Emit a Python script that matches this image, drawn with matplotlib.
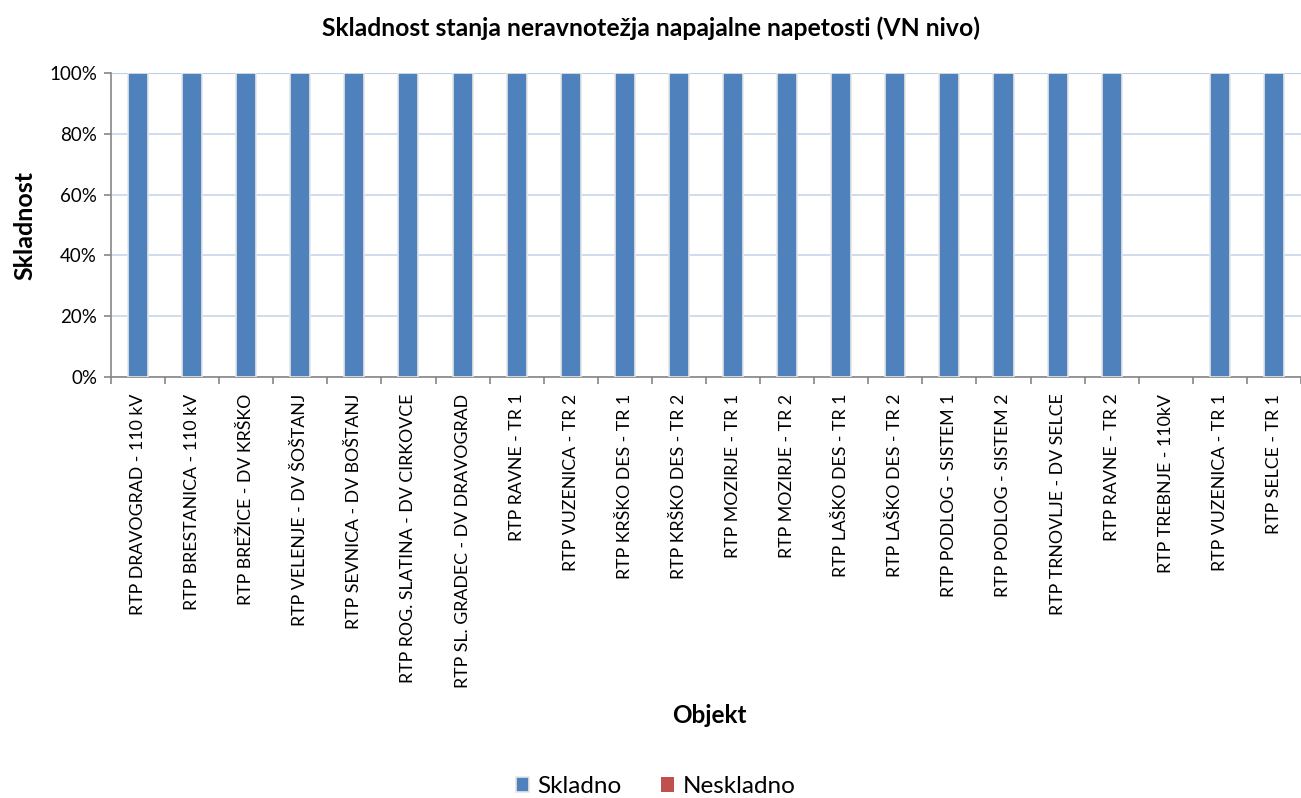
import matplotlib
matplotlib.use("Agg")
import matplotlib.pyplot as plt
import numpy as np
from matplotlib.ticker import PercentFormatter, FixedLocator

plt.rcParams['font.family'] = ['Lato', 'DejaVu Sans']

categories = [
    "RTP DRAVOGRAD - 110 kV", "RTP BRESTANICA - 110 kV", "RTP BREŽICE - DV KRŠKO",
    "RTP VELENJE - DV ŠOŠTANJ", "RTP SEVNICA - DV BOŠTANJ", "RTP ROG. SLATINA - DV CIRKOVCE",
    "RTP SL. GRADEC - DV DRAVOGRAD", "RTP RAVNE - TR 1", "RTP VUZENICA - TR 2",
    "RTP KRŠKO DES - TR 1", "RTP KRŠKO DES - TR 2", "RTP MOZIRJE - TR 1",
    "RTP MOZIRJE - TR 2", "RTP LAŠKO DES - TR 1", "RTP LAŠKO DES - TR 2",
    "RTP PODLOG - SISTEM 1", "RTP PODLOG - SISTEM 2", "RTP TRNOVLJE - DV SELCE",
    "RTP RAVNE - TR 2", "RTP TREBNJE - 110kV", "RTP VUZENICA - TR 1", "RTP SELCE - TR 1",
]
skladno = [1, 1, 1, 1, 1, 1, 1, 1, 1, 1, 1, 1, 1, 1, 1, 1, 1, 1, 1, 0, 1, 1]
neskladno = [0] * 22

fig = plt.figure(figsize=(13.01, 7.98), dpi=100)
ax = fig.add_axes([0.0853, 0.5276, 0.9147, 0.381])

x = np.arange(len(categories))
w = 0.37
edge_s = ['#e6e6e6' if v > 0 else 'none' for v in skladno]
edge_n = ['#e6e6e6' if v > 0 else 'none' for v in neskladno]
ax.bar(x, skladno, w, color='#4f81bd', edgecolor=edge_s, linewidth=1.2,
       label='Skladno', zorder=3)
ax.bar(x, neskladno, w, bottom=skladno, color='#c0504d', edgecolor=edge_n,
       linewidth=1.2, label='Neskladno', zorder=3)

ax.set_xlim(-0.5, len(categories) - 0.5)
ax.set_ylim(0, 1)
ax.yaxis.set_major_locator(FixedLocator([0, 0.2, 0.4, 0.6, 0.8, 1.0]))
ax.yaxis.set_major_formatter(PercentFormatter(1.0, decimals=0))
ax.grid(axis='y', color='#c6d5ea', linewidth=1.2, zorder=0)
ax.axhline(1.0, color='#95b3d7', linewidth=1.5, zorder=1)

ax.set_xticks(x)
ax.set_xticklabels(categories, rotation=90, fontsize=12.8, va='top', ha='center')
ax.set_xticks(np.arange(-0.5, len(categories), 1), minor=True)
ax.tick_params(axis='x', which='major', length=0, pad=12)
ax.tick_params(axis='x', which='minor', length=5, color='#868686', width=1.2)
ax.tick_params(axis='y', length=5, color='#868686', width=1.2, labelsize=13.5, pad=5)

for s in ['top', 'right']:
    ax.spines[s].set_visible(False)
for s in ['left', 'bottom']:
    ax.spines[s].set_color('#868686')
    ax.spines[s].set_linewidth(1.2)

fig.text(0.5, 0.965, "Skladnost stanja neravnotežja napajalne napetosti (VN nivo)",
         ha='center', va='center', fontsize=17.8, fontweight='bold')
fig.text(0.019, 0.718, "Skladnost", rotation=90, ha='center', va='center',
         fontsize=18, fontweight='bold')
fig.text(0.5455, 0.104, "Objekt", ha='center', va='center', fontsize=17.5, fontweight='bold')

fig.legend(loc='center', bbox_to_anchor=(0.504, 0.014), ncol=2, frameon=False,
           fontsize=17.5, handlelength=0.55, handleheight=0.55, handletextpad=0.35,
           columnspacing=1.6)

fig.savefig("out.png", dpi=100)
